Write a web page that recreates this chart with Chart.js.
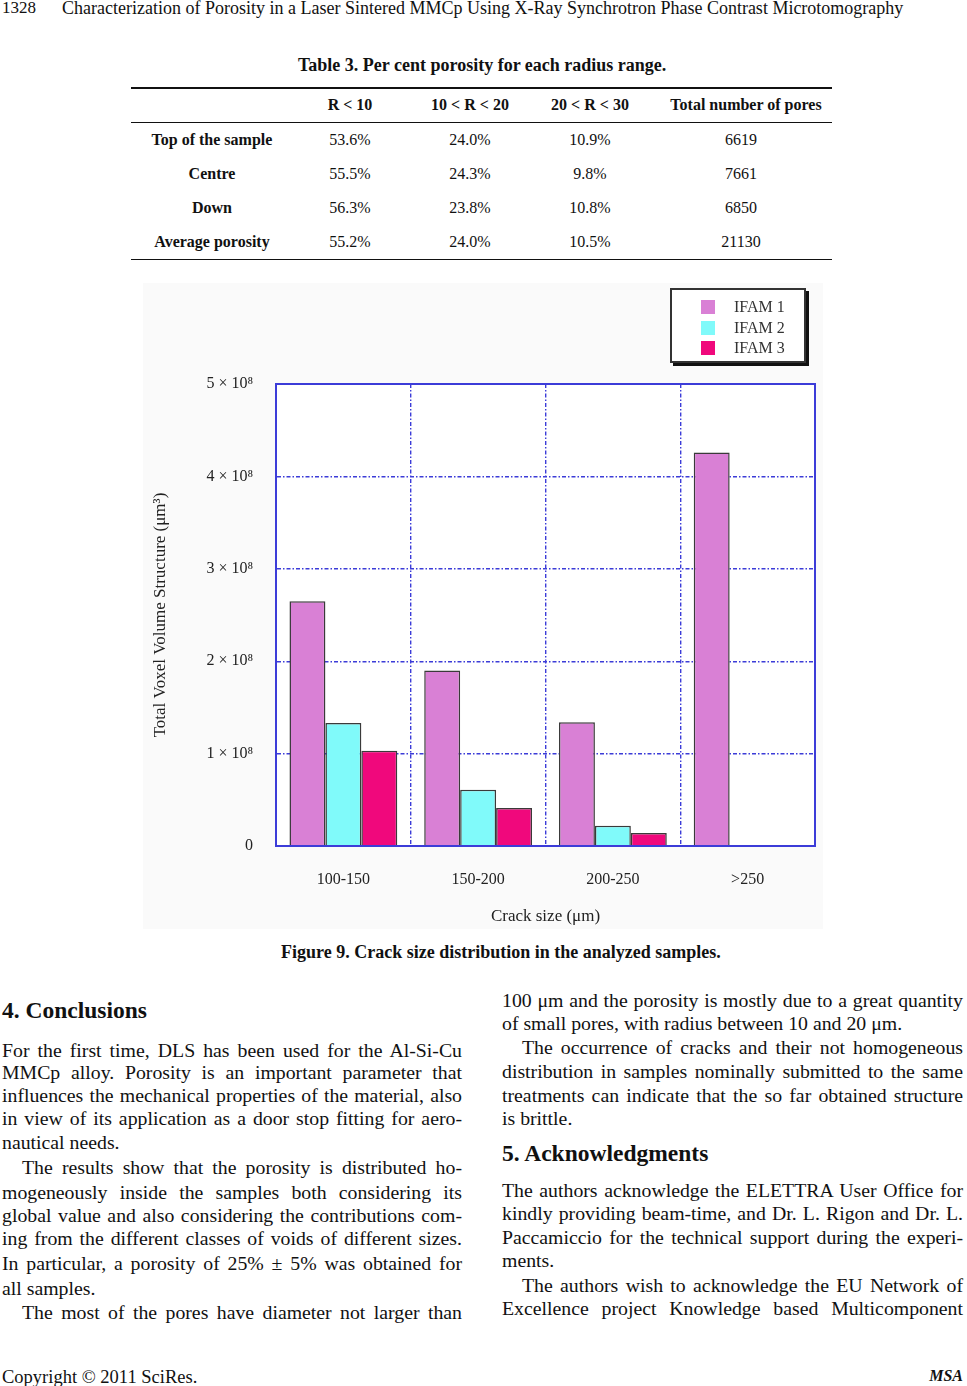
<!DOCTYPE html>
<html>
<head>
<meta charset="utf-8">
<title>Crack size distribution</title>
<script src="https://cdn.jsdelivr.net/npm/chart.js@4.4.1/dist/chart.umd.min.js"></script>
<style>
  body { margin: 0; background: #fff; font-family: "Liberation Serif", "Times New Roman", serif; color: #111; }
  #page { position: relative; width: 967px; height: 1386px; overflow: hidden; }
  .t { position: absolute; white-space: nowrap; }
  .b { font-weight: bold; }
  .rule { position: absolute; left: 131px; width: 701px; background: #111; }
  .c { position: absolute; width: 220px; margin-left: -110px; text-align: center; font-size: 16px; line-height: 20px; white-space: nowrap; }
  .ln { position: absolute; font-size: 19.8px; line-height: 24px; height: 24px; text-align: justify; text-align-last: justify; white-space: normal; overflow: visible; }
  .ln.end { text-align-last: left; }
  .lc { left: 2px; width: 460px; }
  .rc { left: 502px; width: 461px; }
  .ind { text-indent: 20px; }
  #chartBox { position: absolute; left: 143px; top: 283px; width: 680px; height: 646px; background: #fafafa; }
  #legend { position: absolute; left: 670px; top: 288px; width: 132px; height: 71px; background: #fff;
            border: 2px solid #333; box-shadow: 3px 3px 0 #111; }
  .li { position: absolute; left: 0; height: 20px; }
  .sw { position: absolute; left: 29px; top: 3px; width: 14px; height: 14px; }
  .lt { position: absolute; left: 62px; top: 0; font-size: 16px; line-height: 20px; color: #333; white-space: nowrap; }
</style>
</head>
<body>
<div id="page">
  <div class="t" style="left:2px; top:-2px; font-size:17px; line-height:20px;">1328</div>
  <div class="t" style="left:62px; top:-3px; font-size:18px; line-height:22px;">Characterization of Porosity in a Laser Sintered MMCp Using X-Ray Synchrotron Phase Contrast Microtomography</div>

  <div class="t b" style="left:298px; top:54px; font-size:18px; line-height:22px;">Table 3. Per cent porosity for each radius range.</div>
  <div class="rule" style="top:87px; height:1.5px;"></div>
  <div class="rule" style="top:121.5px; height:1px;"></div>
  <div class="rule" style="top:258.5px; height:1.5px;"></div>

  <div class="c b" style="left:350px; top:95px;">R &lt; 10</div>
  <div class="c b" style="left:470px; top:95px;">10 &lt; R &lt; 20</div>
  <div class="c b" style="left:590px; top:95px;">20 &lt; R &lt; 30</div>
  <div class="c b" style="left:746px; top:95px;">Total number of pores</div>

  <div class="c b" style="left:212px; top:130px;">Top of the sample</div>
  <div class="c" style="left:350px; top:130px;">53.6%</div>
  <div class="c" style="left:470px; top:130px;">24.0%</div>
  <div class="c" style="left:590px; top:130px;">10.9%</div>
  <div class="c" style="left:741px; top:130px;">6619</div>

  <div class="c b" style="left:212px; top:164px;">Centre</div>
  <div class="c" style="left:350px; top:164px;">55.5%</div>
  <div class="c" style="left:470px; top:164px;">24.3%</div>
  <div class="c" style="left:590px; top:164px;">9.8%</div>
  <div class="c" style="left:741px; top:164px;">7661</div>

  <div class="c b" style="left:212px; top:198px;">Down</div>
  <div class="c" style="left:350px; top:198px;">56.3%</div>
  <div class="c" style="left:470px; top:198px;">23.8%</div>
  <div class="c" style="left:590px; top:198px;">10.8%</div>
  <div class="c" style="left:741px; top:198px;">6850</div>

  <div class="c b" style="left:212px; top:232px;">Average porosity</div>
  <div class="c" style="left:350px; top:232px;">55.2%</div>
  <div class="c" style="left:470px; top:232px;">24.0%</div>
  <div class="c" style="left:590px; top:232px;">10.5%</div>
  <div class="c" style="left:741px; top:232px;">21130</div>

  <div id="chartBox"><canvas id="crackChart" width="680" height="646"></canvas></div>
  <div id="legend"></div>

  <div class="t b" style="left:281px; top:941px; font-size:18px; line-height:22px;">Figure 9. Crack size distribution in the analyzed samples.</div>

  <!-- left column -->
  <div class="t b" style="left:2px; top:996px; font-size:23.5px; line-height:28px;">4. Conclusions</div>
  <div class="ln lc" style="top:1038px;">For the first time, DLS has been used for the Al-Si-Cu</div>
  <div class="ln lc" style="top:1060px;">MMCp alloy. Porosity is an important parameter that</div>
  <div class="ln lc" style="top:1083px;">influences the mechanical properties of the material, also</div>
  <div class="ln lc" style="top:1106px;">in view of its application as a door stop fitting for aero-</div>
  <div class="ln lc end" style="top:1130px;">nautical needs.</div>
  <div class="ln lc ind" style="top:1155px;">The results show that the porosity is distributed ho-</div>
  <div class="ln lc" style="top:1180px;">mogeneously inside the samples both considering its</div>
  <div class="ln lc" style="top:1203px;">global value and also considering the contributions com-</div>
  <div class="ln lc" style="top:1226px;">ing from the different classes of voids of different sizes.</div>
  <div class="ln lc" style="top:1251px;">In particular, a porosity of 25% ± 5% was obtained for</div>
  <div class="ln lc end" style="top:1276px;">all samples.</div>
  <div class="ln lc ind" style="top:1300px;">The most of the pores have diameter not larger than</div>

  <!-- right column -->
  <div class="ln rc" style="top:988px;">100 μm and the porosity is mostly due to a great quantity</div>
  <div class="ln rc end" style="top:1011px;">of small pores, with radius between 10 and 20 μm.</div>
  <div class="ln rc ind" style="top:1035px;">The occurrence of cracks and their not homogeneous</div>
  <div class="ln rc" style="top:1059px;">distribution in samples nominally submitted to the same</div>
  <div class="ln rc" style="top:1083px;">treatments can indicate that the so far obtained structure</div>
  <div class="ln rc end" style="top:1106px;">is brittle.</div>
  <div class="t b" style="left:502px; top:1139px; font-size:23.5px; line-height:28px;">5. Acknowledgments</div>
  <div class="ln rc" style="top:1178px;">The authors acknowledge the ELETTRA User Office for</div>
  <div class="ln rc" style="top:1201px;">kindly providing beam-time, and Dr. L. Rigon and Dr. L.</div>
  <div class="ln rc" style="top:1225px;">Paccamiccio for the technical support during the experi-</div>
  <div class="ln rc end" style="top:1248px;">ments.</div>
  <div class="ln rc ind" style="top:1273px;">The authors wish to acknowledge the EU Network of</div>
  <div class="ln rc" style="top:1296px;">Excellence project Knowledge based Multicomponent</div>

  <div class="t" style="left:2px; top:1366px; font-size:18.5px; line-height:22px;">Copyright © 2011 SciRes.</div>
  <div class="t b" style="right:4px; top:1365px; font-size:16px; line-height:22px; font-style:italic;">MSA</div>
</div>

<script>
// crack size classes (µm) and total voxel volume per sample (µm³)
const categories = ['100-150', '150-200', '200-250', '>250'];
const seriesNames = ['IFAM 1', 'IFAM 2', 'IFAM 3'];
const ifam1 = [2.65e8, 1.90e8, 1.34e8, 4.26e8];
const ifam2 = [1.33e8, 0.61e8, 0.22e8, null];
const ifam3 = [1.03e8, 0.41e8, 0.14e8, null];
const seriesColors = ['#d980d5', '#80fafa', '#f0087c'];
const yTickLabels = ['0', '1 × 10⁸', '2 × 10⁸', '3 × 10⁸', '4 × 10⁸', '5 × 10⁸'];

const gridBlue = '#3c3cd8';
const serif = '"Liberation Serif", "Times New Roman", serif';

// legend box, same look as the figure
const legendEl = document.getElementById('legend');
seriesNames.forEach((name, i) => {
  const item = document.createElement('div');
  item.className = 'li';
  item.style.top = (7 + i * 20.5) + 'px';
  item.innerHTML = '<span class="sw" style="background:' + seriesColors[i] + '"></span><span class="lt">' + name + '</span>';
  legendEl.appendChild(item);
});

// white plot area + solid frame on all four sides
const plotFrame = {
  id: 'plotFrame',
  beforeDraw(chart) {
    const a = chart.chartArea, ctx = chart.ctx;
    ctx.save();
    ctx.fillStyle = '#fff';
    ctx.fillRect(a.left, a.top, a.right - a.left, a.bottom - a.top);
    ctx.restore();
  },
  afterDatasetsDraw(chart) {
    const a = chart.chartArea, ctx = chart.ctx;
    ctx.save();
    ctx.strokeStyle = gridBlue;
    ctx.lineWidth = 2;
    ctx.strokeRect(a.left, a.top, a.right - a.left, a.bottom - a.top);
    ctx.restore();
  }
};

const datasets = [ifam1, ifam2, ifam3].map((vals, i) => ({
  label: seriesNames[i],
  data: vals,
  backgroundColor: seriesColors[i],
  borderColor: '#3a3a3a',
  borderWidth: 1.5,
  categoryPercentage: 0.8,
  barPercentage: 1.0
}));

const chart = new Chart(document.getElementById('crackChart'), {
  type: 'bar',
  data: { labels: categories, datasets: datasets },
  options: {
    responsive: false,
    animation: false,
    devicePixelRatio: 1,
    layout: { padding: { top: 101, right: 8, left: 0, bottom: 0 } },
    plugins: {
      legend: { display: false },
      tooltip: { enabled: false }
    },
    scales: {
      x: {
        grid: { color: gridBlue, lineWidth: 1.4, drawTicks: false, offset: true },
        border: { color: gridBlue, width: 2, dash: [4, 2, 1.5, 2] },
        ticks: { color: '#222', font: { family: serif, size: 16 }, padding: 24 },
        title: { display: true, text: 'Crack size (μm)', color: '#222',
                 font: { family: serif, size: 17 }, padding: { top: 0, bottom: 2 } },
        afterFit(scale) { scale.height = 83; }
      },
      y: {
        min: 0,
        max: 5e8,
        grid: { color: gridBlue, lineWidth: 1.4, drawTicks: false },
        border: { color: gridBlue, width: 2, dash: [4, 2, 1.5, 2] },
        ticks: {
          stepSize: 1e8,
          color: '#222',
          font: { family: serif, size: 16 },
          padding: 23,
          callback: (v) => yTickLabels[Math.round(v / 1e8)]
        },
        title: { display: true, text: 'Total Voxel Volume Structure (μm³)', color: '#222',
                 font: { family: serif, size: 17 }, padding: { top: 7, bottom: 0 } },
        afterFit(scale) { scale.width = 133; }
      }
    }
  },
  plugins: [plotFrame]
});
</script>
</body>
</html>
